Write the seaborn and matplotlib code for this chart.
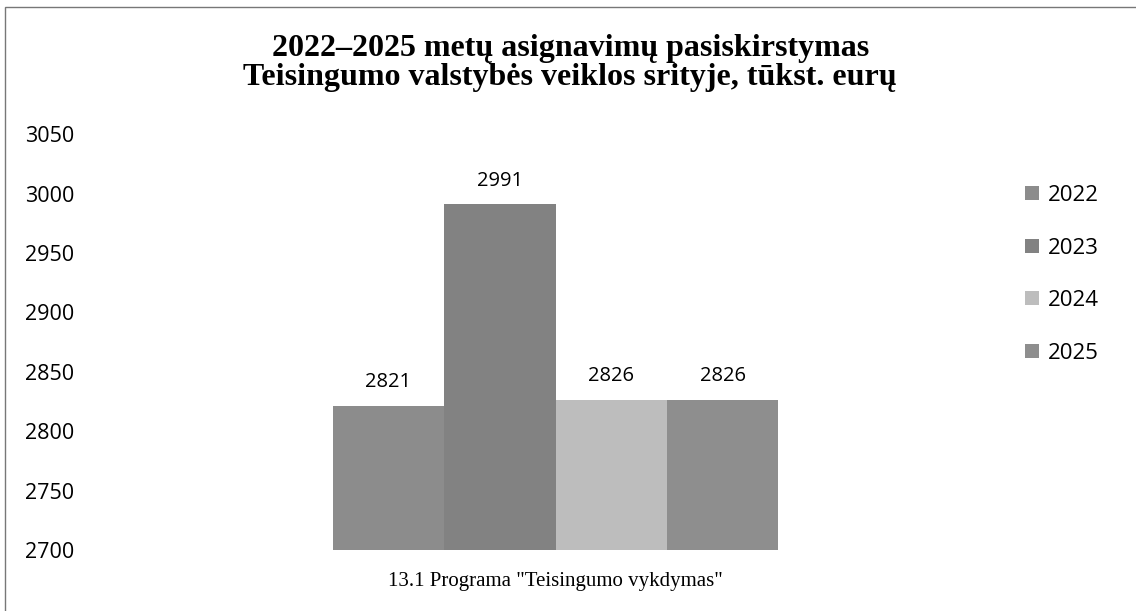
"""
Asignavimu pasiskirstymas 2022-2025 (Teisingumo sritis)
"""

import matplotlib
matplotlib.use('Agg')
import matplotlib.pyplot as plt
import seaborn as sns
import pandas as pd
from matplotlib.patches import Rectangle

years = ['2022', '2023', '2024', '2025']
values = [2821, 2991, 2826, 2826]
program = '13.1 Programa "Teisingumo vykdymas"'
bar_colors = ['#8c8c8c', '#828282', '#bdbdbd', '#8e8e8e']
y_ticks = [2700, 2750, 2800, 2850, 2900, 2950, 3000, 3050]
title = '2022–2025 metų asignavimų pasiskirstymas\nTeisingumo valstybės veiklos srityje, tūkst. eurų'

df = pd.DataFrame({'program': [program] * len(years), 'year': years, 'value': values})

sns.set_style('white')
plt.rcParams['font.family'] = ['Open Sans', 'DejaVu Sans']
plt.rcParams['text.color'] = 'black'
plt.rcParams['ytick.color'] = 'black'
plt.rcParams['axes.labelcolor'] = 'black'

fig = plt.figure(figsize=(11.36, 6.11), dpi=100)
ax = fig.add_axes([0.084, 0.10, 0.81, 0.68])

sns.barplot(data=df, x='program', y='value', hue='year', palette=bar_colors,
            width=0.484, saturation=1, linewidth=0, ax=ax, legend=True)

ax.set_ylim(2700, 3050)
ax.set_xlim(-0.5, 0.5)
ax.set_yticks(y_ticks)
ax.set_yticklabels([str(t) for t in y_ticks], fontsize=15.5)
ax.tick_params(axis='y', length=0, pad=50.5)
for lbl in ax.get_yticklabels():
    lbl.set_horizontalalignment('left')
ax.set_xticks([])
ax.set_xlabel(program, fontsize=15, family='Liberation Serif', labelpad=16)
ax.set_ylabel('')
sns.despine(ax=ax, left=True, bottom=True)

for cont in ax.containers:
    ax.bar_label(cont, fmt='%d', padding=10, fontsize=14.5)

handles, labels = ax.get_legend_handles_labels()
ax.legend(handles, labels, loc='upper left', bbox_to_anchor=(0.885, 0.73),
          bbox_transform=fig.transFigure, frameon=False, fontsize=16,
          handlelength=0.6, handleheight=0.6, handletextpad=0.4, labelspacing=1.42)

fig.text(0.502, 0.945, title, ha='center', va='top', fontsize=23,
         fontweight='bold', family='Liberation Serif', linespacing=1.03)

fig.patches.append(Rectangle((0.004, -0.01), 1.0, 0.998, transform=fig.transFigure,
                             fill=False, edgecolor='#777777', linewidth=1.0))

plt.savefig('out.png', dpi=100)
plt.close()
